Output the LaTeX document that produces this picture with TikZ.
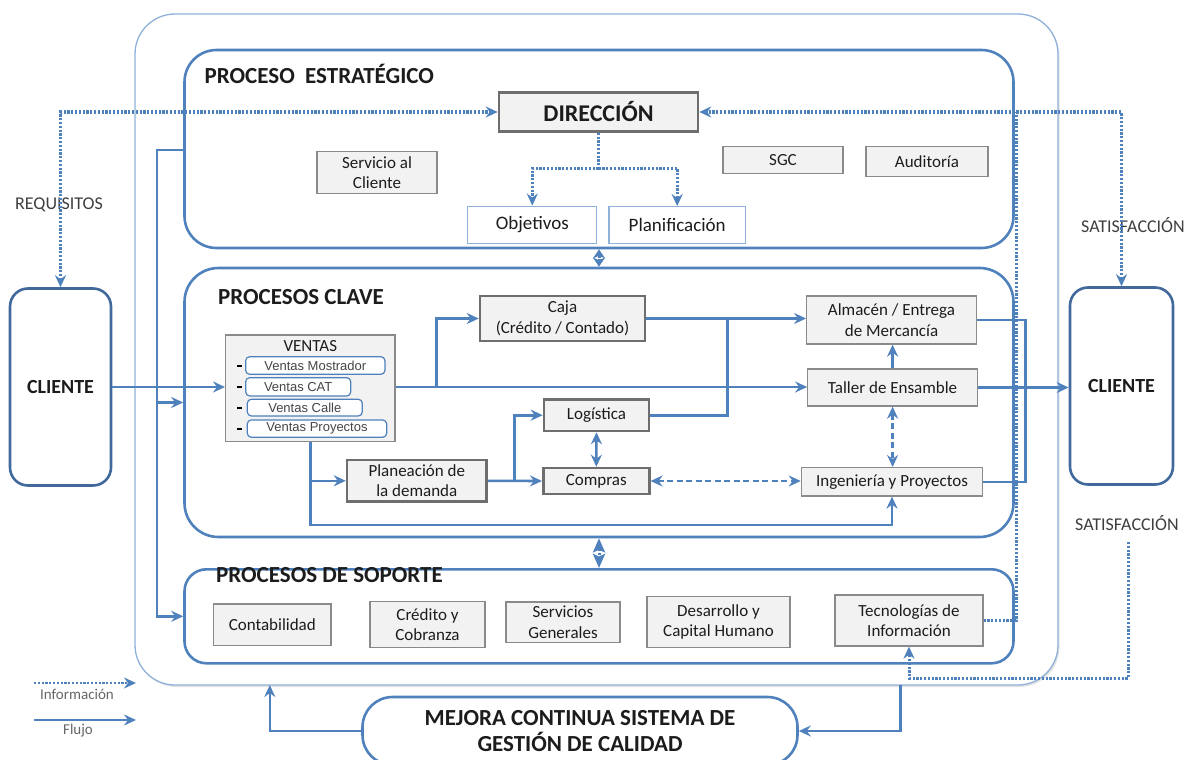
\documentclass[tikz,border=0pt]{standalone}
\usepackage{fontspec}
\setmainfont{Carlito}
\newfontfamily\arialf{Liberation Sans}
\usetikzlibrary{arrows.meta,shadows}
\definecolor{blu}{HTML}{4F81BD}
\definecolor{dblu}{HTML}{41699C}
\definecolor{lblu}{HTML}{8FB1DA}
\definecolor{bfill}{HTML}{F2F2F2}
\definecolor{bline}{HTML}{8A8A8A}
\definecolor{bthick}{HTML}{6E6E6E}
\definecolor{txt}{HTML}{1C1C1C}
\definecolor{subtxt}{HTML}{454545}
\newcommand{\fsz}[2]{\fontsize{#1}{#2}\selectfont}

\begin{document}
\begin{tikzpicture}[x=1pt,y=-1pt,
  >={Stealth[length=12pt,width=11pt,inset=4pt]},
  outerbox/.style={draw=lblu, line width=1.3pt, rounded corners=40pt, fill=white,
    drop shadow={opacity=0.22, shadow xshift=1.5pt, shadow yshift=-2pt}},
  panel/.style={draw=blu, line width=2.6pt, rounded corners=#1, inner sep=0pt},
  ttl/.style={anchor=base west, inner sep=0pt, text=txt, font=\bfseries\fsz{23}{27}},
  thinbox/.style={draw=bline, line width=1.3pt, fill=bfill, inner sep=0pt, align=center,
    text=txt, font=\fsz{17}{20.5}},
  thickbox/.style={thinbox, draw=bthick, line width=2.6pt},
  whitebox/.style={draw=lblu, line width=1.3pt, fill=white, inner sep=0pt, text=txt,
    font=\fsz{19}{22}},
  subbox/.style={draw=blu, line width=1.2pt, fill=white, rounded corners=4pt, inner sep=0pt,
    text=subtxt, font=\arialf\fsz{13}{15}},
  cli/.style={draw=dblu, line width=2.6pt, rounded corners=18pt, inner sep=0pt, text=txt,
    font=\bfseries\fsz{20}{24}},
  lbl/.style={inner sep=0pt, text=txt!85, font=\fsz{18}{21}},
  lgd/.style={inner sep=0pt, text=black!60, font=\fsz{15}{18}},
  flow/.style={draw=blu, line width=2.6pt},
  dashflow/.style={flow, dash pattern=on 6pt off 3.5pt},
  info/.style={draw=blu, line width=3pt, dash pattern=on 2.2pt off 1.6pt},
  mini/.style={info, <->, >={Stealth[length=#1,width=12pt,inset=2.5pt]}}
]
\useasboundingbox (0,0) rectangle (1187,760);
\clip (0,0) rectangle (1187,760);

% frame around the whole process map
\node[outerbox, minimum width=923pt, minimum height=671pt] (outer) at (596.5,349.5) {};

% the three process bands
\node[panel=32pt, minimum width=829pt, minimum height=198pt] (ps) at (599,149) {};
\node[panel=34pt, minimum width=829pt, minimum height=269pt] (pc) at (599,402.5) {};
\node[panel=22pt, minimum width=829pt, minimum height=94pt] (psop) at (599,616.3) {};

\node[ttl] (tps) at (204.5,83.5) {PROCESO~~ESTRATÉGICO};
\node[ttl] (tpc) at (218,304) {PROCESOS CLAVE};
\node[ttl] (tso) at (216,582.5) {PROCESOS DE SOPORTE};

% customers
\node[cli, minimum width=101pt, minimum height=197pt] (c1) at (60.5,387) {CLIENTE};
\node[cli, minimum width=103pt, minimum height=197pt] (c2) at (1121.5,386) {CLIENTE};

% strategic process
\node[thickbox, minimum width=199pt, minimum height=39pt, font=\bfseries\fsz{24}{28}] (dir) at (598.5,112) {DIRECCIÓN};
\node[thinbox, minimum width=120pt, minimum height=41.5pt] (sac) at (377,172.5) {Servicio al\\Cliente};
\node[thinbox, minimum width=120pt, minimum height=27pt] (sgc) at (783,160) {SGC};
\node[thinbox, minimum width=122pt, minimum height=30pt] (aud) at (927,161.7) {Auditoría};
\node[whitebox, minimum width=129pt, minimum height=37pt] (obj) at (532.3,224.7) {Objetivos};
\node[whitebox, minimum width=136.4pt, minimum height=36.6pt] (pla) at (677.2,225) {Planificación};

% key processes
\node[thinbox, minimum width=169.3pt, minimum height=106.7pt] (vts) at (310.3,388.3) {};
\node[inner sep=0pt, text=txt, font=\fsz{17}{20}] (vtt) at (310.3,346) {VENTAS};
\node[subbox, minimum width=139.3pt, minimum height=17.6pt] (vm) at (315.3,365.5) {Ventas Mostrador};
\node[subbox, minimum width=105pt, minimum height=18.3pt] (vc) at (298.2,386.8) {Ventas CAT};
\node[subbox, minimum width=115pt, minimum height=16.7pt] (vl) at (304.8,407.6) {Ventas Calle};
\node[subbox, minimum width=139.4pt, minimum height=17.3pt] (vp) at (317,428.6) {Ventas Proyectos};
\foreach \yy/\nm in {365.5/d1,386.8/d2,407.6/d3,428.6/d4}
  \node[inner sep=0pt, fill=black, minimum width=4.5pt, minimum height=2pt] (\nm) at (239.5,\yy) {};

\node[thickbox, minimum width=165pt, minimum height=45pt] (caja) at (562.5,318.5) {Caja\\(Crédito / Contado)};
\node[thinbox, minimum width=169.6pt, minimum height=48pt] (alm) at (891.5,320) {Almacén / Entrega\\de Mercancía};
\node[thinbox, minimum width=169.6pt, minimum height=37pt] (tal) at (892.6,387.5) {Taller de Ensamble};
\node[thickbox, minimum width=105pt, minimum height=31.5pt] (log) at (596.5,415.2) {Logística};
\node[thickbox, minimum width=139.5pt, minimum height=41.7pt] (pld) at (416.8,480.8) {Planeación de\\la demanda};
\node[thickbox, minimum width=106pt, minimum height=26pt] (comp) at (596.3,481) {Compras};
\node[thinbox, minimum width=181.2pt, minimum height=28.3pt] (ing) at (892,481.8) {Ingeniería y Proyectos};

% support processes
\node[thinbox, minimum width=117.4pt, minimum height=41.7pt] (cont) at (272.3,624.8) {Contabilidad};
\node[thinbox, minimum width=115pt, minimum height=45.6pt] (cred) at (427.5,624.5) {Crédito y\\Cobranza};
\node[thinbox, minimum width=114pt, minimum height=40.7pt] (sg) at (563,622.4) {Servicios\\Generales};
\node[thinbox, minimum width=143pt, minimum height=50.6pt] (dch) at (718.5,622) {Desarrollo y\\Capital Humano};
\node[thinbox, minimum width=148pt, minimum height=51pt] (tec) at (909,620.5) {Tecnologías de\\Información};

% continuous improvement
\node[draw=blu, line width=2.6pt, rounded corners=30pt, fill=white, inner sep=0pt,
  minimum width=435pt, minimum height=68pt, align=center, text=txt,
  font=\bfseries\fsz{23}{26}] (mej) at (580,731) {MEJORA CONTINUA SISTEMA DE\\GESTIÓN DE CALIDAD};

% side labels
\node[lbl] (req) at (59,205) {REQUISITOS};
\node[lbl] (sat1) at (1133,225) {SATISFACCIÓN};
\node[lbl] (sat2) at (1127,523) {SATISFACCIÓN};

% information (dotted) links
\coordinate (dj) at (598.5,168.3);
\coordinate (tj) at (1016,112);
\coordinate (s2a) at (1128,542);
\coordinate (s2b) at (1128,678.3);
\draw[info,<->] (c1.north) |- (dir.west);
\draw[info,<->] (c2.north) |- (dir.east);
\draw[info] (tec.east) -| (tj);
\draw[info] (dir.south) -- (dj);
\draw[info,->] (dj) -| (obj.north);
\draw[info,->] (dj) -| (pla.north);
\draw[info,->] (s2a) -- (s2b) -| (tec.south);
\draw[mini=9pt] (ps.south) -- (pc.north);
\draw[mini=14pt] (pc.south) -- (psop.north);

% flow links
\coordinate (fl) at (157,150);
\coordinate (vj) at (436.7,387);
\coordinate (lj) at (727.3,318.5);
\coordinate (pj) at (514.3,481);
\coordinate (vb) at (310.3,525);
\coordinate (rj) at (1025.7,387.5);
\coordinate (m1) at (900.4,685);
\coordinate (m2) at (269.8,685);
\draw[flow,->] (fl -| ps.west) -- (fl) |- (psop.west);
\draw[flow,->] (fl |- pc.west) -- (pc.west);
\draw[flow,->] (c1.east) -- (c1.east -| vts.west);
\draw[flow,->] (vts.east |- vj) -- (vj -| tal.west);
\draw[flow,->] (vj) |- (caja.west);
\draw[flow,->] (caja.east) -- (caja.east -| alm.west);
\draw[flow] (log.east) -| (lj);
\draw[flow,->] (pld.east) -- (comp.west);
\draw[flow,->] (pj) |- (log.west);
\draw[flow,->] (vts.south) -- (vb) -| (ing.south);
\draw[flow,->] (vts.south |- pld.west) -- (pld.west);
\draw[flow,->] (tal.north) -- (tal.north |- alm.south);
\draw[flow,<->] (log.south) -- (comp.north);
\draw[dashflow,<->] (tal.south) -- (tal.south |- ing.north);
\draw[dashflow,<->] (comp.east) -- (comp.east -| ing.west);
\draw[flow] (alm.east) -| (rj) |- (ing.east);
\draw[flow,->] (tal.east) -- (tal.east -| c2.west);
\draw[flow,->] (m1) |- (mej.east);
\draw[flow,->] (mej.west) -| (m2);

% key
\coordinate (la) at (34,683);
\coordinate (lb) at (136,683);
\coordinate (lc) at (34,720);
\coordinate (ld) at (136,720);
\draw[info,->,line width=2.4pt] (la) -- (lb);
\draw[flow,->] (lc) -- (ld);
\node[lgd] (li) at (77,694) {Información};
\node[lgd] (lf) at (78,731) {Flujo};
\end{tikzpicture}
\end{document}
